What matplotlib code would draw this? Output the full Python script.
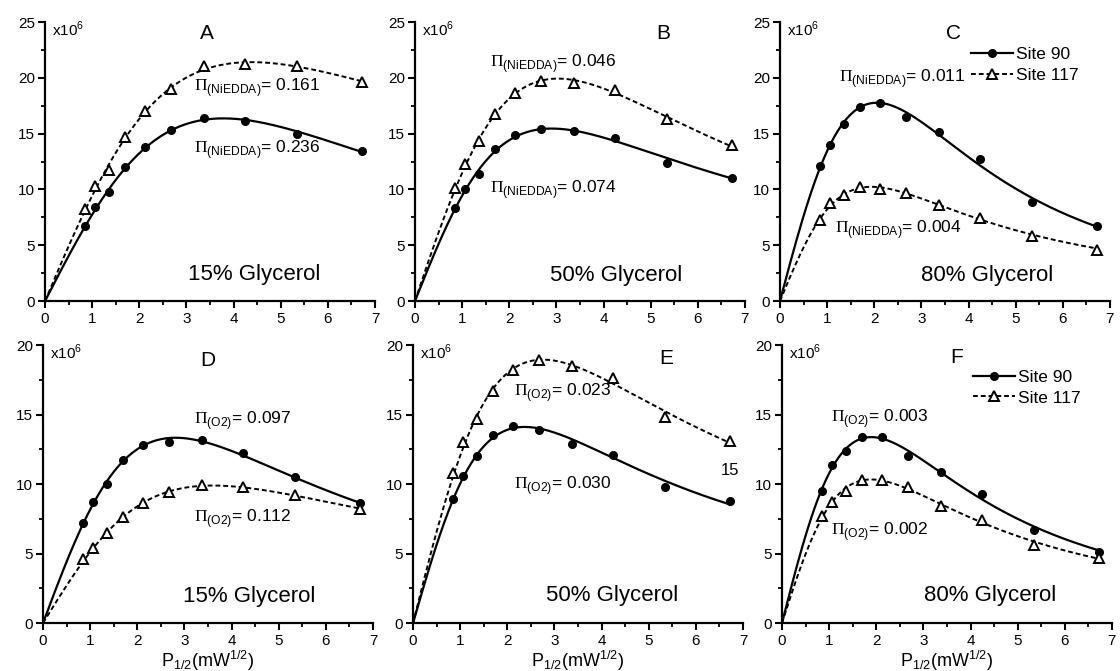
import numpy as np
import matplotlib
matplotlib.use('Agg')
import matplotlib.pyplot as plt
from matplotlib.ticker import MultipleLocator

plt.rcParams['font.family'] = ['Liberation Sans', 'DejaVu Sans']
plt.rcParams['mathtext.fontset'] = 'custom'
plt.rcParams['mathtext.rm'] = 'Liberation Serif'
plt.rcParams['mathtext.sf'] = 'Liberation Sans'

# square root of microwave power (mW^1/2), same for all panels
p_sqrt = [0.85, 1.07, 1.35, 1.70, 2.13, 2.68, 3.38, 4.25, 5.35, 6.73]

# signal amplitude (x10^6), site 90 = filled circles, site 117 = open triangles
a_site90 = [6.7, 8.4, 9.8, 12.0, 13.8, 15.3, 16.4, 16.1, 15.0, 13.4]
a_site117 = [8.2, 10.3, 11.7, 14.7, 17.0, 19.0, 21.1, 21.2, 21.1, 19.6]
b_site90 = [8.3, 10.0, 11.4, 13.6, 14.9, 15.4, 15.2, 14.6, 12.4, 11.0]
b_site117 = [10.1, 12.3, 14.3, 16.8, 18.6, 19.7, 19.5, 18.9, 16.3, 14.0]
c_site90 = [12.1, 14.0, 15.9, 17.4, 17.7, 16.5, 15.1, 12.7, 8.9, 6.7]
c_site117 = [7.3, 8.8, 9.5, 10.2, 10.0, 9.7, 8.6, 7.4, 5.8, 4.6]
d_site90 = [7.2, 8.7, 10.0, 11.7, 12.8, 13.0, 13.2, 12.2, 10.5, 8.6]
d_site117 = [4.6, 5.4, 6.5, 7.6, 8.6, 9.4, 9.9, 9.8, 9.2, 8.2]
e_site90 = [8.9, 10.6, 12.0, 13.5, 14.2, 13.9, 12.9, 12.1, 9.8, 8.8]
e_site117 = [10.8, 13.0, 14.7, 16.7, 18.2, 18.9, 18.5, 17.6, 14.8, 13.1]
f_site90 = [9.5, 11.4, 12.4, 13.4, 13.4, 12.0, 10.9, 9.3, 6.7, 5.1]
f_site117 = [7.7, 8.7, 9.5, 10.3, 10.3, 9.8, 8.4, 7.4, 5.6, 4.7]

letters = ['A', 'B', 'C', 'D', 'E', 'F']
glycerol = ['15% Glycerol', '50% Glycerol', '80% Glycerol'] * 2
reagent = ['NiEDDA'] * 3 + ['O2'] * 3
pi_90 = ['0.236', '0.074', '0.011', '0.097', '0.030', '0.003']
pi_117 = ['0.161', '0.046', '0.004', '0.112', '0.023', '0.002']
ymax = [25, 25, 25, 20, 20, 20]

series90 = [a_site90, b_site90, c_site90, d_site90, e_site90, f_site90]
series117 = [a_site117, b_site117, c_site117, d_site117, e_site117, f_site117]

# text placement (data coords): letter, glycerol, pi90, pi117
letter_pos = [(3.44, 24.0), (5.27, 24.0), (3.68, 24.0), (3.5, 18.9), (5.38, 19.0), (3.71, 19.1)]
glyc_pos = [(3.04, 2.4), (2.86, 2.3), (3.0, 2.3), (2.98, 1.9), (2.82, 2.0), (3.02, 2.0)]
pi90_pos = [(3.17, 13.6), (1.59, 10.0), (1.26, 19.9), (3.21, 14.55), (2.15, 9.9), (1.04, 14.7)]
pi117_pos = [(3.17, 19.1), (1.59, 21.3), (1.17, 6.4), (3.21, 7.5), (2.15, 16.6), (1.04, 6.6)]

# axes rectangles in figure fraction
rects = [
    (0.0402, 0.5514, 0.2946, 0.4158),
    (0.3705, 0.5514, 0.2946, 0.4158),
    (0.6964, 0.5514, 0.2946, 0.4158),
    (0.0384, 0.0715, 0.2946, 0.4143),
    (0.3688, 0.0715, 0.2946, 0.4143),
    (0.6982, 0.0715, 0.2946, 0.4143),
]


def sat_fit(x, y):
    '''fit a power saturation curve through origin + points'''
    xs = np.concatenate([[0.0], np.asarray(x)])
    ys = np.concatenate([[0.0], np.asarray(y)])
    best = None
    for eps in np.linspace(0.3, 3.0, 55):
        k = 2 ** (1 / eps) - 1
        for p in np.logspace(-1, 2.5, 160):
            f = xs / (1 + k * xs ** 2 / p) ** eps
            amp = f @ ys / (f @ f)
            res = ((ys - amp * f) ** 2).sum()
            if best is None or res < best[0]:
                best = (res, amp, k, p, eps)
    _, amp, k, p, eps = best
    return lambda xx: amp * xx / (1 + k * xx ** 2 / p) ** eps


fig = plt.figure(figsize=(11.2, 6.71), dpi=100)
xx = np.linspace(0, 6.73, 300)

for i in range(6):
    ax = fig.add_axes(rects[i])
    y90 = series90[i]
    y117 = series117[i]

    fit90 = sat_fit(p_sqrt, y90)
    fit117 = sat_fit(p_sqrt, y117)
    ax.plot(xx, fit90(xx), color='black', lw=1.6)
    ax.plot(xx, fit117(xx), color='black', lw=1.4, ls=(0, (2.5, 1.5)))
    ax.plot(p_sqrt, y90, 'o', color='black', ms=5.5, zorder=3)
    ax.plot(p_sqrt, y117, '^', mfc='white', mec='black', mew=1.4, ms=7, zorder=3)

    ax.set_xlim(0, 7)
    ax.set_ylim(0, ymax[i])
    ax.xaxis.set_major_locator(MultipleLocator(1))
    ax.xaxis.set_minor_locator(MultipleLocator(0.5))
    ax.yaxis.set_major_locator(MultipleLocator(5))
    ax.yaxis.set_minor_locator(MultipleLocator(2.5))
    for s in ['top', 'right']:
        ax.spines[s].set_visible(False)
    for s in ['left', 'bottom']:
        ax.spines[s].set_linewidth(1.6)
    ax.tick_params(which='major', direction='out', length=5, width=1.5, labelsize=11, pad=2)
    ax.tick_params(which='minor', direction='out', length=3, width=1.3)
    ax.tick_params(axis='x', which='major', pad=3)

    ax.text(0.14, ymax[i] * 0.972, r'x10$^{\mathregular{6}}$', fontsize=11, va='center', ha='left')
    ax.text(*letter_pos[i], letters[i], fontsize=15, ha='center', va='center')
    ax.text(*glyc_pos[i], glycerol[i], fontsize=16, ha='left', va='center')
    sub = r'$\Pi_{\mathsf{(%s)}}$' % ('NiEDDA' if reagent[i] == 'NiEDDA' else 'O2')
    ax.text(*pi90_pos[i], sub + '= ' + pi_90[i], fontsize=12.5, ha='left', va='center')
    ax.text(*pi117_pos[i], sub + '= ' + pi_117[i], fontsize=12.5, ha='left', va='center')

    if i >= 3:
        ax.set_xlabel(r'P$_{\mathregular{1/2}}$(mW$^{\mathregular{1/2}}$)', fontsize=13, labelpad=0.5)

    if i in (2, 5):
        ax.plot([], [], '-o', color='black', ms=5.5, lw=1.6, label='Site 90')
        ax.plot([], [], '^', ls=(0, (2.5, 1.5)), color='black', mfc='white', mec='black',
                mew=1.4, ms=7, lw=1.4, label='Site 117')
        ax.legend(loc='upper left', bbox_to_anchor=(0.58, 0.91), frameon=False,
                  fontsize=12.5, handlelength=2.4, handletextpad=0.2,
                  labelspacing=0.3, borderaxespad=0, borderpad=0)

# stray label in panel E
fig.axes[4].text(6.73, 11.0, '15', fontsize=12, ha='center', va='center')

fig.savefig('out.png', dpi=100)
